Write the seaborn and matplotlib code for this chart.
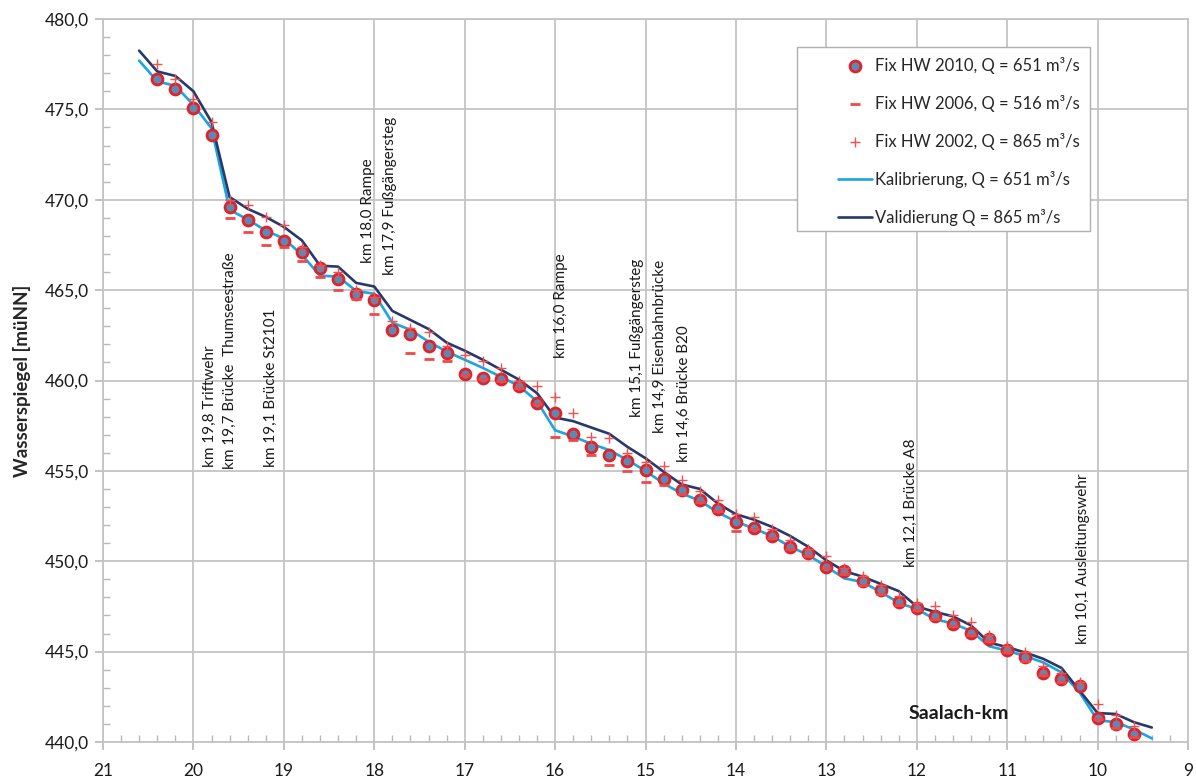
import numpy as np
import pandas as pd
import seaborn as sns
import matplotlib.pyplot as plt
from matplotlib.patches import Rectangle
from matplotlib.ticker import FuncFormatter, MultipleLocator

# --- data ---
km_fix = [20.4, 20.2, 20.0, 19.8, 19.6, 19.4, 19.2, 19.0, 18.8, 18.6, 18.4, 18.2, 18.0,
          17.8, 17.6, 17.4, 17.2, 17.0, 16.8, 16.6, 16.4, 16.2, 16.0, 15.8, 15.6, 15.4,
          15.2, 15.0, 14.8, 14.6, 14.4, 14.2, 14.0, 13.8, 13.6, 13.4, 13.2, 13.0, 12.8,
          12.6, 12.4, 12.2, 12.0, 11.8, 11.6, 11.4, 11.2, 11.0, 10.8, 10.6, 10.4, 10.2,
          10.0, 9.8, 9.6]

hw2010 = [476.7, 476.1, 475.1, 473.6, 469.6, 468.9, 468.2, 467.7, 467.1, 466.2, 465.6, 464.8,
          464.45, 462.8, 462.6, 461.9, 461.5, 460.35, 460.15, 460.1, 459.7, 458.75, 458.2,
          457.05, 456.3, 455.9, 455.55, 455.05, 454.55, 453.95, 453.4, 452.9, 452.15, 451.85,
          451.4, 450.8, 450.45, 449.7, 449.45, 448.9, 448.4, 447.75, 447.4, 446.95, 446.55,
          446.05, 445.7, 445.1, 444.7, 443.8, 443.5, 443.1, 441.35, 441.0, 440.45]

hw2006 = [np.nan, np.nan, np.nan, np.nan, 469.0, 468.2, 467.5, 467.4, 466.6, 465.7, 465.0,
          464.5, 463.7, np.nan, 461.5, 461.2, 461.1, 460.3, 460.1, 460.0, 459.6, 458.7, 456.9,
          456.7, 455.9, 455.3, 455.0, 454.4, 454.2, 453.7, 453.3, 452.8, 451.7, 451.8, 451.3,
          450.7, 450.3, 449.6, 449.3, 448.7, 448.2, 447.6, 447.3, 446.8, 446.4, 445.9, 445.6,
          445.0, 444.5, 443.7, 443.3, np.nan, 441.3, 440.8, 440.3]

hw2002 = [477.5, 476.7, 475.6, 474.3, 470.0, 469.7, 469.05, 468.6, 467.4, 466.4, 466.0, 465.0,
          464.6, 463.3, 462.9, 462.7, 461.9, 461.4, 461.1, 460.7, 460.0, 459.7, 459.1, 458.2,
          456.9, 456.8, 456.0, 455.5, 455.25, 454.5, 453.9, 453.4, 452.6, 452.45, 451.8, 451.2,
          450.7, 450.3, 449.6, 449.2, 448.7, 448.1, 447.7, 447.55, 447.0, 446.65, 445.9, 445.3,
          445.0, 444.2, 443.8, 443.3, 442.1, 441.5, 440.9]

km_line = [20.6, 20.4, 20.2, 20.0, 19.8, 19.6, 19.4, 19.2, 19.0, 18.8, 18.6, 18.4, 18.2, 18.0,
           17.8, 17.6, 17.4, 17.2, 17.0, 16.8, 16.6, 16.4, 16.2, 16.0, 15.8, 15.6, 15.4, 15.2,
           15.0, 14.8, 14.6, 14.4, 14.2, 14.0, 13.8, 13.6, 13.4, 13.2, 13.0, 12.8, 12.6, 12.4,
           12.2, 12.0, 11.8, 11.6, 11.4, 11.2, 11.0, 10.8, 10.6, 10.4, 10.2, 10.0, 9.8, 9.6, 9.4]

kalibrierung = [477.7, 476.55, 476.3, 475.25, 473.95, 469.45, 468.9, 468.3, 467.85, 466.95,
                465.8, 465.75, 464.95, 464.8, 463.2, 462.8, 462.15, 461.6, 461.15, 460.7, 460.2,
                459.7, 458.85, 457.25, 456.9, 456.5, 456.15, 455.6, 455.0, 454.3, 453.75, 453.35,
                452.7, 452.2, 451.8, 451.4, 450.8, 450.35, 449.7, 449.05, 448.85, 448.3, 447.7,
                447.35, 446.8, 446.55, 446.15, 445.3, 445.05, 444.75, 444.4, 443.85, 442.75,
                441.2, 441.1, 440.7, 440.2]

validierung = [478.25, 477.1, 476.85, 476.0, 474.3, 470.15, 469.5, 469.05, 468.5, 467.75,
               466.35, 466.3, 465.4, 465.2, 463.85, 463.35, 462.85, 462.1, 461.65, 461.15,
               460.6, 460.05, 459.3, 457.95, 457.75, 457.4, 457.05, 456.33, 455.7, 454.95,
               454.25, 454.0, 453.2, 452.6, 452.3, 451.9, 451.4, 450.8, 450.05, 449.45, 449.15,
               448.75, 448.35, 447.5, 447.2, 446.95, 446.45, 445.5, 445.25, 444.95, 444.6,
               444.1, 442.85, 441.6, 441.55, 441.1, 440.8]

# structure labels (text, km position, bottom of the text in müNN)
site_labels = ["km 19,8 Triftwehr", "km 19,7 Brücke  Thumseestraße", "km 19,1 Brücke St2101",
               "km 18,0 Rampe", "km 17,9 Fußgängersteg", "km 16,0 Rampe",
               "km 15,1 Fußgängersteg", "km 14,9 Eisenbahnbrücke", "km 14,6 Brücke B20",
               "km 12,1 Brücke A8", "km 10,1 Ausleitungswehr"]
site_x = [19.82, 19.60, 19.145, 18.065, 17.825, 15.93, 15.096, 14.84, 14.58, 12.07, 10.16]
site_y = [455.2, 455.1, 455.2, 466.5, 465.85, 461.25, 458.0, 457.1, 455.5, 449.7, 445.4]

legend_labels = ["Fix HW 2010, Q = 651 m³/s", "Fix HW 2006, Q = 516 m³/s",
                 "Fix HW 2002, Q = 865 m³/s", "Kalibrierung, Q = 651 m³/s",
                 "Validierung Q = 865 m³/s"]

OUTPUT_PLOT_FILE = "out.png"


def make_plot():
    sns.set_theme(style="white")
    plt.rcParams["font.family"] = ["Lato", "DejaVu Sans"]

    fix = pd.DataFrame({"km": km_fix, "hw2010": hw2010, "hw2006": hw2006, "hw2002": hw2002})
    lines = pd.DataFrame({"km": km_line, "kal": kalibrierung, "val": validierung})

    fig = plt.figure(figsize=(11.96, 7.78), dpi=100)
    ax = fig.add_axes([103 / 1196, 36 / 778, 1085 / 1196, 723 / 778])

    sns.lineplot(data=lines, x="km", y="kal", color="#1ba6df", linewidth=1.9,
                 label=legend_labels[3], ax=ax, zorder=3)
    sns.lineplot(data=lines, x="km", y="val", color="#26396a", linewidth=1.9,
                 label=legend_labels[4], ax=ax, zorder=3)
    sns.scatterplot(data=fix, x="km", y="hw2010", marker="o", s=62, color="#5f88b0",
                    edgecolor="#e2222b", linewidth=2.0, label=legend_labels[0], ax=ax, zorder=4)
    sns.scatterplot(data=fix, x="km", y="hw2006", marker="_", s=55, color="#f04848",
                    linewidth=2.0, label=legend_labels[1], ax=ax, zorder=5)
    sns.scatterplot(data=fix, x="km", y="hw2002", marker="+", s=60, color="#f05050",
                    linewidth=1.0, label=legend_labels[2], ax=ax, zorder=5)

    # axes
    ax.set_xlim(21, 9)
    ax.set_ylim(440, 480)
    ax.xaxis.set_major_locator(MultipleLocator(1))
    ax.xaxis.set_minor_locator(MultipleLocator(0.2))
    ax.yaxis.set_major_locator(MultipleLocator(5))
    ax.yaxis.set_minor_locator(MultipleLocator(1))
    ax.yaxis.set_major_formatter(FuncFormatter(lambda v, p: f"{v:.1f}".replace(".", ",")))
    ax.xaxis.set_major_formatter(FuncFormatter(lambda v, p: f"{v:.0f}"))
    ax.grid(True, which="major", color="#c4c4c4", linewidth=1.3)
    ax.tick_params(which="major", direction="out", length=6, width=1.2, color="#b8b8b8",
                   labelsize=12.5, pad=4, labelcolor="#1a1a1a")
    ax.tick_params(axis="x", which="major", pad=9)
    ax.tick_params(which="minor", direction="in", length=5, width=1.0, color="#b8b8b8")
    ax.tick_params(axis="x", which="both", bottom=True)
    ax.tick_params(axis="y", which="both", left=True)
    for side in ["left", "bottom", "top", "right"]:
        ax.spines[side].set_color("#c4c4c4")
        ax.spines[side].set_linewidth(1.3)

    ax.set_xlabel("")
    ax.set_ylabel("Wasserspiegel [müNN]", fontsize=13.5, fontweight="bold", labelpad=10)
    ax.text(0.789, 0.040, "Saalach-km", transform=ax.transAxes, fontsize=14,
            fontweight="bold", ha="center", va="center", color="#1a1a1a")

    for txt, xk, yk in zip(site_labels, site_x, site_y):
        ax.text(xk, yk, txt, rotation=90, ha="center", va="bottom", fontsize=11,
                color="#1a1a1a", zorder=6)

    # legend: separate frame so the entries can sit indented like the original
    frame = Rectangle((0.6396, 0.7073), 0.2700, 0.2540, transform=ax.transAxes,
                      facecolor="white", edgecolor="#b0b0b0", linewidth=1.0, zorder=7)
    ax.add_patch(frame)
    handles, labels = ax.get_legend_handles_labels()
    lookup = dict(zip(labels, handles))
    leg = ax.legend([lookup[l] for l in legend_labels], legend_labels, loc="upper left",
                    bbox_to_anchor=(0.6774, 0.948), borderaxespad=0, fontsize=12,
                    frameon=False, labelspacing=1.26, handlelength=2.04,
                    handletextpad=0.18, borderpad=0)
    leg.set_zorder(8)

    fig.savefig(OUTPUT_PLOT_FILE, dpi=100)


if __name__ == "__main__":
    make_plot()
